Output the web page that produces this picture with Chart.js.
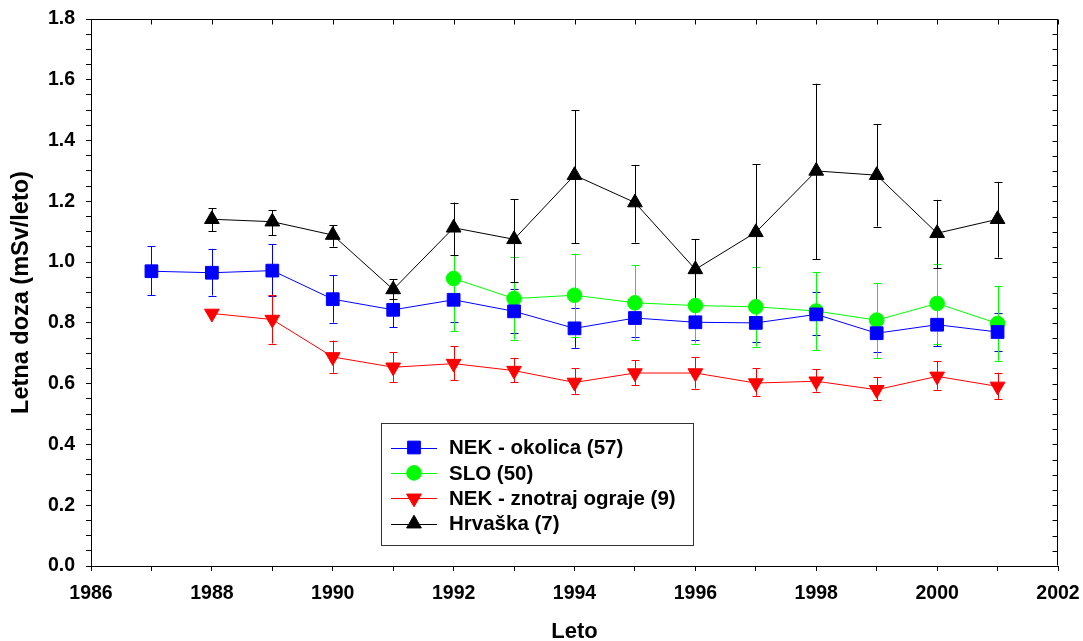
<!DOCTYPE html>
<html>
<head>
<meta charset="utf-8">
<script src="https://cdn.jsdelivr.net/npm/chart.js@4/dist/chart.umd.min.js"></script>
<style>
html,body{margin:0;padding:0;background:#fff;}
#wrap{position:relative;width:1083px;height:641px;}
</style>
</head>
<body>
<div id="wrap"><canvas id="c" width="1083" height="641"></canvas></div>
<script>
// ---- data ----
const yearsNek = [1987,1988,1989,1990,1991,1992,1993,1994,1995,1996,1997,1998,1999,2000,2001];
const nekOkolica   = [0.970,0.965,0.972,0.878,0.843,0.876,0.838,0.782,0.816,0.802,0.800,0.828,0.766,0.794,0.770];
const nekOkolicaLo = [0.891,0.890,0.890,0.801,0.786,0.803,0.767,0.718,0.753,0.745,0.737,0.759,0.705,0.724,0.706];
const nekOkolicaHi = [1.052,1.044,1.059,0.957,0.900,0.950,0.910,0.850,0.880,0.860,0.863,0.901,0.830,0.860,0.832];

const yearsSlo = [1992,1993,1994,1995,1996,1997,1998,1999,2000,2001];
const slo   = [0.946,0.880,0.891,0.866,0.857,0.853,0.839,0.809,0.864,0.798];
const sloLo = [0.772,0.745,0.754,0.743,0.732,0.722,0.711,0.685,0.732,0.675];
const sloHi = [1.120,1.017,1.028,0.989,0.980,0.985,0.967,0.932,0.993,0.922];

const yearsIn = [1988,1989,1990,1991,1992,1993,1994,1995,1996,1997,1998,1999,2000,2001];
const nekZnotraj   = [0.831,0.811,0.688,0.654,0.666,0.643,0.604,0.635,0.635,0.602,0.608,0.580,0.624,0.591];
const nekZnotrajLo = [null,0.732,0.636,0.606,0.611,0.604,0.567,0.594,0.584,0.560,0.574,0.545,0.580,0.550];
const nekZnotrajHi = [null,0.893,0.742,0.703,0.723,0.685,0.650,0.677,0.688,0.650,0.647,0.622,0.675,0.636];

const yearsHr = [1988,1989,1990,1991,1992,1993,1994,1995,1996,1997,1998,1999,2000,2001];
const hrvaska   = [1.141,1.133,1.089,0.910,1.113,1.075,1.286,1.196,0.976,1.098,1.300,1.286,1.095,1.141];
const hrvaskaLo = [1.102,1.089,1.051,0.877,1.023,0.935,1.062,1.064,0.871,0.870,1.009,1.117,0.980,1.015];
const hrvaskaHi = [1.177,1.171,1.122,0.944,1.196,1.207,1.500,1.320,1.075,1.322,1.587,1.454,1.205,1.264];

const seriesLabels = ['NEK - okolica (57)','SLO (50)','NEK - znotraj ograje (9)','Hrvaška (7)'];
const xTitle = 'Leto';
const yTitle = 'Letna doza (mSv/leto)';

function pts(xs, ys){ return xs.map((x,i)=>({x:x, y:ys[i]})); }

const FONT = "'Liberation Sans', Arial, Helvetica, sans-serif";

const datasets = [
  {label: seriesLabels[0], data: pts(yearsNek,nekOkolica), errLo: nekOkolicaLo, errHi: nekOkolicaHi,
   borderColor:'#0000ff', backgroundColor:'#0000ff', pointStyle:'rect', pointRadius:9, pointRotation:0},
  {label: seriesLabels[1], data: pts(yearsSlo,slo), errLo: sloLo, errHi: sloHi,
   borderColor:'#00ff00', backgroundColor:'#00ff00', pointStyle:'circle', pointRadius:7.3, pointRotation:0},
  {label: seriesLabels[2], data: pts(yearsIn,nekZnotraj), errLo: nekZnotrajLo, errHi: nekZnotrajHi,
   borderColor:'#ff0000', backgroundColor:'#ff0000', pointStyle:'triangle', pointRadius:8.5, pointRotation:180},
  {label: seriesLabels[3], data: pts(yearsHr,hrvaska), errLo: hrvaskaLo, errHi: hrvaskaHi,
   borderColor:'#000000', backgroundColor:'#000000', pointStyle:'triangle', pointRadius:8.5, pointRotation:0}
].map(d => Object.assign(d, {borderWidth:1, pointBorderWidth:1, pointHoverRadius:d.pointRadius,
   pointBorderColor:d.backgroundColor, tension:0, fill:false}));

const errorBars = {
  id:'errorBars',
  beforeDatasetsDraw(chart){
    const ctx = chart.ctx, ys = chart.scales.y;
    ctx.save();
    ctx.lineWidth = 1;
    chart.data.datasets.forEach((ds, di) => {
      const meta = chart.getDatasetMeta(di);
      ctx.strokeStyle = ds.borderColor;
      meta.data.forEach((el, i) => {
        const lo = ds.errLo[i], hi = ds.errHi[i];
        if (lo == null || hi == null) return;
        const x = Math.round(el.x) + 0.5;
        const y1 = ys.getPixelForValue(lo), y2 = ys.getPixelForValue(hi);
        ctx.beginPath();
        ctx.moveTo(x, y1); ctx.lineTo(x, y2);
        ctx.moveTo(x-4, Math.round(y1)+0.5); ctx.lineTo(x+4, Math.round(y1)+0.5);
        ctx.moveTo(x-4, Math.round(y2)+0.5); ctx.lineTo(x+4, Math.round(y2)+0.5);
        ctx.stroke();
      });
    });
    ctx.restore();
  }
};

const frame = {
  id:'frame',
  afterDraw(chart){
    const ctx = chart.ctx, a = chart.chartArea, xs = chart.scales.x, ys = chart.scales.y;
    const L = Math.round(a.left)+0.5, R = Math.round(a.right)-0.5, T = Math.round(a.top)+0.5, B = Math.round(a.bottom)-0.5;
    ctx.save();
    ctx.strokeStyle = '#000'; ctx.lineWidth = 1;
    ctx.beginPath();
    ctx.moveTo(L, T); ctx.lineTo(R, T); ctx.lineTo(R, B);
    xs.ticks.forEach(t => { const p = Math.round(xs.getPixelForValue(t.value))+0.5; ctx.moveTo(p, T); ctx.lineTo(p, T+5); });
    ys.ticks.forEach(t => { const p = Math.round(ys.getPixelForValue(t.value))+0.5; ctx.moveTo(R, p); ctx.lineTo(R-5, p); });
    ctx.stroke();
    // legend
    const bx = 381.5, by = 423.5, bw = 312, bh = 122;
    ctx.fillStyle = '#fff';
    ctx.fillRect(bx, by, bw, bh);
    ctx.strokeStyle = '#333';
    ctx.strokeRect(bx, by, bw, bh);
    ctx.font = "bold 20.5px " + FONT;
    ctx.textBaseline = 'middle';
    chart.data.datasets.forEach((ds, i) => {
      const cy = 447.5 + i*25.4;
      ctx.strokeStyle = ds.borderColor; ctx.lineWidth = 1;
      ctx.beginPath(); ctx.moveTo(391, Math.round(cy)+0.5); ctx.lineTo(437, Math.round(cy)+0.5); ctx.stroke();
      ctx.fillStyle = ds.backgroundColor; ctx.strokeStyle = ds.backgroundColor;
      ctx.beginPath();
      const r = ds.pointRadius;
      if (ds.pointStyle === 'rect') { const s = r*Math.SQRT1_2; ctx.rect(414-s, cy-s, 2*s, 2*s); }
      else if (ds.pointStyle === 'circle') { ctx.arc(414, cy, r, 0, Math.PI*2); }
      else {
        let rad = ds.pointRotation*Math.PI/180;
        for (let k=0;k<3;k++){ const px = 414 + Math.sin(rad)*r, py = cy - Math.cos(rad)*r; if(k===0) ctx.moveTo(px,py); else ctx.lineTo(px,py); rad += 2*Math.PI/3; }
        ctx.closePath();
      }
      ctx.fill(); ctx.stroke();
      ctx.fillStyle = '#000';
      ctx.fillText(ds.label, 449, cy + 1);
    });
    ctx.restore();
  }
};

new Chart(document.getElementById('c'), {
  type:'line',
  data:{datasets},
  plugins:[errorBars, frame],
  options:{
    responsive:false,
    animation:false,
    events:[],
    layout:{padding:{top:19, right:25, left:0, bottom:0}},
    plugins:{legend:{display:false}, tooltip:{enabled:false}},
    scales:{
      x:{
        type:'linear', min:1986, max:2002,
        afterFit(s){ s.height = 75; s.paddingLeft = 0; s.paddingRight = 0; },
        ticks:{stepSize:1, autoSkip:false, maxRotation:0, padding:11, color:'#000',
          font:{family:FONT, size:19.5, weight:'bold'},
          callback:(v)=> (v % 2 === 0 ? String(v) : '')},
        grid:{drawOnChartArea:false, drawTicks:true, tickLength:5, color:'#000', lineWidth:1},
        border:{display:true, color:'#000', width:1},
        title:{display:true, text:xTitle, color:'#000', font:{family:FONT, size:22, weight:'bold', lineHeight:1}, padding:{top:0,bottom:-2}}
      },
      y:{
        type:'linear', min:0, max:1.8,
        afterFit(s){ s.width = 91; s.paddingTop = 0; s.paddingBottom = 0; },
        ticks:{stepSize:0.05, autoSkip:false, padding:11, color:'#000',
          font:{family:FONT, size:19.5, weight:'bold'},
          callback:(v)=> (Math.round(v*100) % 20 === 0 ? v.toFixed(1) : '')},
        grid:{drawOnChartArea:false, drawTicks:true, tickLength:5, color:'#000', lineWidth:1},
        border:{display:true, color:'#000', width:1},
        title:{display:true, text:yTitle, color:'#000', font:{family:FONT, size:23.5, weight:'bold', lineHeight:1}, padding:{top:10,bottom:0}}
      }
    }
  }
});
</script>
</body>
</html>
